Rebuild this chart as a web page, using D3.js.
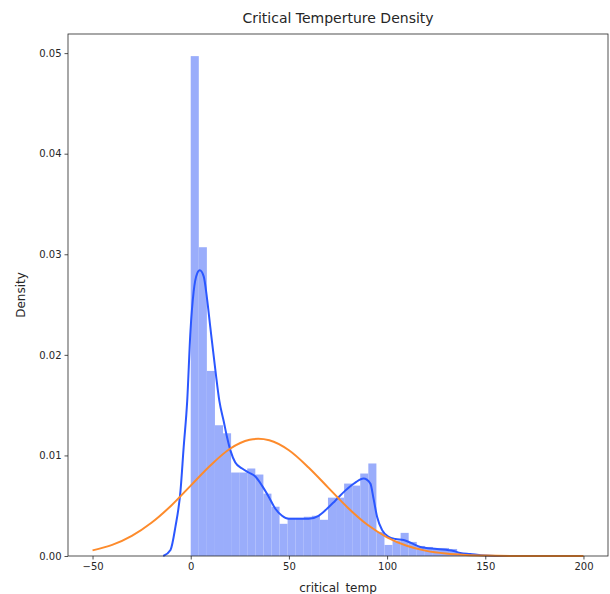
<!DOCTYPE html>
<html>
<head>
<meta charset="utf-8">
<script src="https://cdn.jsdelivr.net/npm/d3@7"></script>
<style>
  body { margin: 0; background: #fff; }
  text { font-family: "DejaVu Sans", sans-serif; fill: #262626; }
</style>
</head>
<body>
<div id="chart"></div>
<script>
// histogram: 45 bins from 0 to 185, density per bin
const binMin = 0, binMax = 185;
const binDensity = [
    0.0497, 0.0307, 0.0184, 0.0130, 0.0122, 0.0083, 0.0083, 0.0087, 0.0081, 0.0062,
    0.0049, 0.0032, 0.0038, 0.0038, 0.0039, 0.0040, 0.0036, 0.0058, 0.0058, 0.0072,
    0.0070, 0.0082, 0.0092, 0.0024, 0.0011, 0.0015, 0.0023, 0.0014, 0.0010, 0.0009,
    0.0008, 0.0008, 0.0007, 0.0003, 0.0002, 0.0001, 0.00005, 0.00004, 0.00003, 0.00003,
    0.00002, 0.00002, 0.00002, 0.00001, 0.00001
];

// kde line (blue)
const kdeX = [-14, -10.3, -7.8, -5.2, -3.6, -1.8, -0.15, 1.5, 3.3, 4.6, 6.6, 8.3, 10.0, 12.6,
    14.6, 16.8, 18.5, 20.2, 22.7, 26.2, 29.5, 32.9, 36.3, 39.7, 43.1, 46.5, 49.9, 55, 60,
    65.1, 69.4, 73.6, 78.7, 83.8, 88.0, 91.5, 93.1, 94.9, 97.4, 100.8, 104.2, 108.4, 116.9,
    125.4, 133.8, 137.3, 142.3, 150, 160, 199];
const kdeY = [0, 0.0006, 0.0029, 0.0065, 0.0108, 0.0154, 0.0223, 0.0263, 0.0281, 0.0284,
    0.0278, 0.0256, 0.0227, 0.0184, 0.0154, 0.0134, 0.0118, 0.0105, 0.0093, 0.0087, 0.0083,
    0.0079, 0.0070, 0.0059, 0.0047, 0.0040, 0.0037, 0.0037, 0.0037, 0.0040, 0.0047, 0.0055,
    0.0065, 0.0073, 0.0077, 0.0072, 0.0057, 0.0039, 0.0026, 0.0019, 0.0017, 0.0016, 0.0009,
    0.0007, 0.0005, 0.0003, 0.0002, 0.00005, 0, 0];

// fitted normal line (orange)
const fitX = [-50, -40, -30, -20, -10, 0, 10, 20, 30, 34.4, 40, 50, 60, 70, 80, 90, 100,
    110, 120, 130, 140, 150, 170, 200];
const fitY = [0.00056, 0.0011, 0.0020, 0.0033, 0.0050, 0.0070, 0.0090, 0.01066, 0.01155,
    0.01165, 0.0115, 0.01051, 0.0088, 0.0068, 0.0048, 0.0031, 0.00186, 0.00102, 0.00051,
    0.00024, 0.0001, 0.00004, 0, 0];

const xTicks = [-50, 0, 50, 100, 150, 200];
const yTicks = [0, 0.01, 0.02, 0.03, 0.04, 0.05];

const W = 610, H = 594;
const margin = { top: 34, right: 2, bottom: 38, left: 68 };

const svg = d3.select("#chart").append("svg")
    .attr("width", W)
    .attr("height", H);

const x = d3.scaleLinear()
    .domain([-62.5, 212.5])
    .range([margin.left, W - margin.right]);

const y = d3.scaleLinear()
    .domain([0, 0.0519])
    .range([H - margin.bottom, margin.top]);

// bars
const binW = (binMax - binMin) / binDensity.length;
svg.append("g")
    .selectAll("rect")
    .data(binDensity)
    .enter().append("rect")
    .attr("x", (d, i) => x(binMin + i * binW))
    .attr("width", (d, i) => x(binMin + (i + 1) * binW) - x(binMin + i * binW))
    .attr("y", d => y(d))
    .attr("height", d => y(0) - y(d))
    .style("fill", "#9aadfb");

const line = d3.line()
    .x(d => x(d[0]))
    .y(d => y(d[1]))
    .curve(d3.curveMonotoneX);

svg.append("path")
    .attr("d", line(d3.zip(kdeX, kdeY)))
    .style("fill", "none")
    .style("stroke", "#2b57ff")
    .style("stroke-width", 2);

svg.append("path")
    .attr("d", line(d3.zip(fitX, fitY)))
    .style("fill", "none")
    .style("stroke", "#fd8b2c")
    .style("stroke-width", 2);

// axes
const xAxis = svg.append("g")
    .attr("transform", "translate(0," + (H - margin.bottom) + ")")
    .call(d3.axisBottom(x).tickValues(xTicks).tickFormat(d => d < 0 ? "\u2212" + Math.abs(d) : d)
        .tickSizeInner(3.5).tickSizeOuter(0).tickPadding(3));

const yAxis = svg.append("g")
    .attr("transform", "translate(" + margin.left + ",0)")
    .call(d3.axisLeft(y).tickValues(yTicks).tickFormat(d3.format(".2f"))
        .tickSizeInner(3.5).tickSizeOuter(0).tickPadding(3));

[xAxis, yAxis].forEach(a => {
    a.select(".domain").remove();
    a.selectAll("line").style("stroke", "#262626").style("stroke-width", 0.8);
    a.selectAll("text").style("font-size", "10px").style("font-family", "DejaVu Sans").attr("fill", "#262626");
});

// frame
svg.append("rect")
    .attr("x", margin.left)
    .attr("y", margin.top)
    .attr("width", W - margin.right - margin.left)
    .attr("height", H - margin.bottom - margin.top)
    .style("fill", "none")
    .style("stroke", "#262626")
    .style("stroke-width", 0.8);

svg.append("text")
    .attr("x", (margin.left + W - margin.right) / 2)
    .attr("y", 23)
    .attr("text-anchor", "middle")
    .style("font-size", "14px")
    .text("Critical Temperture Density");

svg.append("text")
    .attr("x", (margin.left + W - margin.right) / 2)
    .attr("y", 592)
    .attr("text-anchor", "middle")
    .style("font-size", "12px")
    .text("critical_temp");

svg.append("text")
    .attr("transform", "translate(25," + ((margin.top + H - margin.bottom) / 2) + ") rotate(-90)")
    .attr("text-anchor", "middle")
    .style("font-size", "12px")
    .text("Density");
</script>
</body>
</html>
